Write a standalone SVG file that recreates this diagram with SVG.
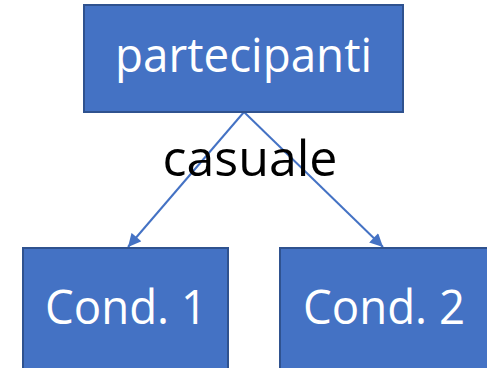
<svg xmlns="http://www.w3.org/2000/svg" width="487" height="368" viewBox="0 0 487 368">
<style>
.box{fill:#4472C4;stroke:#2F528F;stroke-width:2}
.lbl{font-family:"Open Sans","Liberation Sans",sans-serif;fill:#fff;font-size:47px}
.edge{stroke:#4472C4;stroke-width:2;fill:none}
.cap{font-family:"Open Sans","Liberation Sans",sans-serif;fill:#000;font-size:49px}
</style>
<defs>
<marker id="arr" viewBox="0 0 10 10" refX="10" refY="5" markerWidth="14" markerHeight="13" orient="auto" markerUnits="userSpaceOnUse">
<path d="M0,0 L10,5 L0,10 z" fill="#4472C4"/>
</marker>
</defs>
<rect width="487" height="368" fill="#fff"/>
<g id="connectors">
<line class="edge" x1="244" y1="112" x2="128" y2="247" marker-end="url(#arr)"/>
<line class="edge" x1="244" y1="112" x2="383" y2="247" marker-end="url(#arr)"/>
<text class="cap" x="250" y="176" text-anchor="middle" textLength="175" lengthAdjust="spacingAndGlyphs">casuale</text>
</g>
<g id="partecipanti">
<rect class="box" x="84" y="5" width="319" height="107"/>
<text class="lbl" x="243.5" y="72" text-anchor="middle" textLength="257" lengthAdjust="spacingAndGlyphs">partecipanti</text>
</g>
<g id="cond1">
<rect class="box" x="23" y="248" width="205" height="125"/>
<text class="lbl" x="126" y="324" text-anchor="middle" textLength="162" lengthAdjust="spacingAndGlyphs">Cond. 1</text>
</g>
<g id="cond2">
<rect class="box" x="280" y="248" width="212" height="125"/>
<text class="lbl" x="384" y="324" text-anchor="middle" textLength="162" lengthAdjust="spacingAndGlyphs">Cond. 2</text>
</g>
</svg>
